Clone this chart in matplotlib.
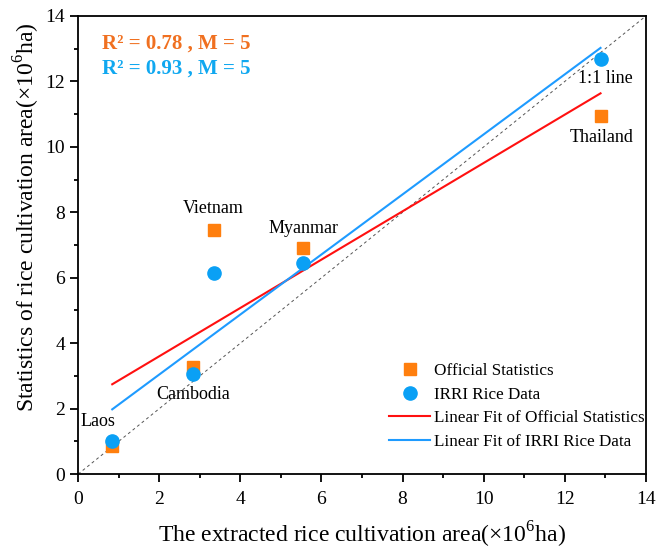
import numpy as np
import matplotlib
matplotlib.use("Agg")
import matplotlib.pyplot as plt

# font setup (Times-like)
plt.rcParams['font.family'] = ['Liberation Serif', 'DejaVu Serif']
plt.rcParams['mathtext.fontset'] = 'custom'
plt.rcParams['mathtext.rm'] = 'Liberation Serif'
plt.rcParams['mathtext.bf'] = 'Liberation Serif:bold'

# data
countries = ['Laos', 'Cambodia', 'Vietnam', 'Myanmar', 'Thailand']
extracted = [0.84, 2.82, 3.34, 5.55, 12.88]
official = [0.85, 3.26, 7.46, 6.90, 10.93]
irri = [1.00, 3.06, 6.16, 6.46, 12.69]
label_pos = [(0.48, 1.6), (2.84, 2.42), (3.34, 8.13), (5.55, 7.5), (12.9, 10.3)]

orange = '#FF7F0E'
blue = '#0AA0F5'

fig = plt.figure(figsize=(6.68, 5.5), dpi=100)
ax = fig.add_axes([0.117, 0.138, 0.85, 0.833])

x = np.array(extracted)
# 1:1 line
ax.plot([0, 14], [0, 14], ls=(0, (3, 3)), color='#555555', lw=0.7)

ax.plot(x, official, 's', color=orange, ms=8.5, label='Official Statistics', zorder=3)
ax.plot(x, irri, 'o', color=blue, ms=9.5, label='IRRI Rice Data', zorder=3)

# linear fits
xf = np.array([x.min(), x.max()])
k1, b1 = np.polyfit(x, official, 1)
k2, b2 = np.polyfit(x, irri, 1)
ax.plot(xf, k1 * xf + b1, color='#FF1010', lw=1.5, label='Linear Fit of Official Statistics')
ax.plot(xf, k2 * xf + b2, color='#1E9BFF', lw=1.5, label='Linear Fit of IRRI Rice Data')

for name, (tx, ty) in zip(countries, label_pos):
    ax.text(tx, ty, name, ha='center', va='center', fontsize=13)
ax.text(13.0, 12.1, '1:1 line', ha='center', va='center', fontsize=13)

ax.text(0.6, 13.15, 'R² = 0.78 , M = 5', color='#F07020',
        fontsize=15, fontweight='bold', va='center')
ax.text(0.6, 12.4, 'R² = 0.93 , M = 5', color='#10A8F0',
        fontsize=15, fontweight='bold', va='center')

ax.set_xlim(0, 14)
ax.set_ylim(0, 14)
ax.set_xticks(np.arange(0, 15, 2))
ax.set_yticks(np.arange(0, 15, 2))
ax.set_xticks(np.arange(1, 14, 2), minor=True)
ax.set_yticks(np.arange(1, 14, 2), minor=True)
ax.tick_params(which='major', direction='out', length=6, width=1.3, labelsize=14)
ax.tick_params(which='minor', direction='out', length=3, width=1.3)
ax.tick_params(axis='x', which='major', pad=6)
for s in ax.spines.values():
    s.set_linewidth(1.3)

ax.set_xlabel(r'The extracted rice cultivation area(×10$^{6}$ha)', fontsize=17)
ax.set_ylabel(r'Statistics of rice cultivation area(×10$^{6}$ha)', fontsize=17)
ax.xaxis.set_label_coords(0.5, -0.1)
ax.yaxis.set_label_coords(-0.064, 0.561)

ax.legend(loc='lower right', bbox_to_anchor=(1.015, 0.03), frameon=False,
          fontsize=12.3, handlelength=2.4, labelspacing=0.45,
          borderaxespad=0.2, handletextpad=0.2)

fig.savefig('out.png', dpi=100)
